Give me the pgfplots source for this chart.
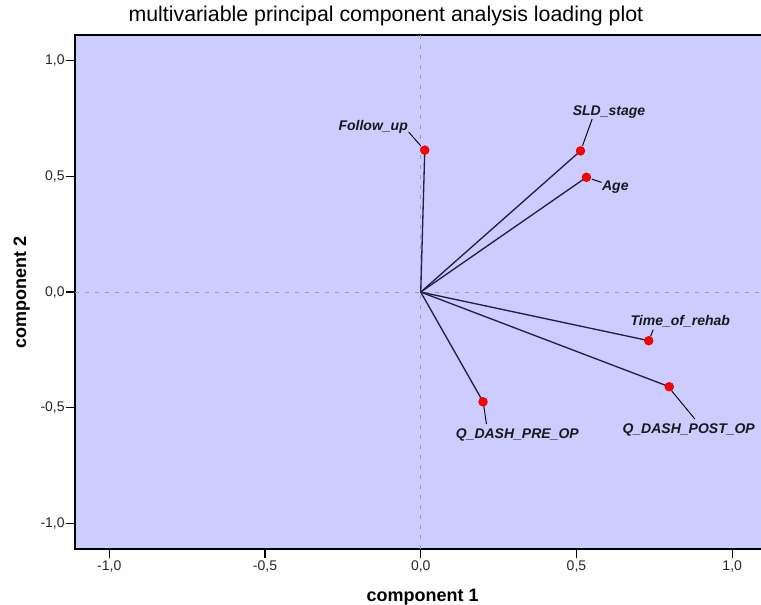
\documentclass[border=0pt]{standalone}
\usepackage{fontspec}
\setmainfont{Liberation Sans}
\usepackage{pgfplots}
\usepackage{pgfplotstable}
\pgfplotsset{compat=1.18}

\definecolor{plotbg}{HTML}{CCCCFF}
\definecolor{vec}{HTML}{202040}
\definecolor{zeroline}{HTML}{9C9CB8}

% loadings: component 1, component 2
\pgfplotstableread{
x      y
0.013  0.613
0.513  0.610
0.532  0.496
0.732 -0.210
0.798 -0.409
0.200 -0.474
}\loadings

\begin{document}
\begin{tikzpicture}
\begin{axis}[
    scale only axis,
    width=518.6pt, height=385.4pt,
    xmin=-1.11, xmax=1.11,
    ymin=-1.11, ymax=1.11,
    axis background/.style={fill=plotbg},
    axis line style={black, line width=1.1pt},
    tick pos=left,
    tick align=outside,
    major tick length=6.75pt,
    tick style={black, line width=1pt},
    xtick={-1,-0.5,0,0.5,1},
    ytick={-1,-0.5,0,0.5,1},
    xticklabels={{-1,0},{-0,5},{0,0},{0,5},{1,0}},
    yticklabels={{-1,0},{-0,5},{0,0},{0,5},{1,0}},
    ticklabel style={font=\fontsize{10.5}{12}\selectfont, text=black!85},
    yticklabel style={inner sep=0.8pt},
    xticklabel style={inner sep=2pt},
    xlabel={component 1},
    ylabel={component 2},
    label style={font=\fontsize{13.5}{15}\selectfont\bfseries},
    xlabel style={at={(axis description cs:0.5026,-0.1027)}, anchor=base},
    ylabel style={at={(axis description cs:-0.077,0.5)}, anchor=center, rotate=0},
    title={multivariable principal component analysis loading plot},
    title style={font=\fontsize{16}{18}\selectfont, at={(axis description cs:0.4496,1.0117)}, anchor=base},
    clip=false,
]
% zero reference lines
\draw[zeroline, line width=0.8pt, dash pattern=on 3pt off 4.5pt] (axis cs:0,-1.11) -- (axis cs:0,1.11);
\draw[zeroline, line width=0.8pt, dash pattern=on 3pt off 4.5pt] (axis cs:-1.11,0) -- (axis cs:1.11,0);

% vectors from origin
\addplot[draw=vec, line width=1pt, quiver={u=\thisrow{x}, v=\thisrow{y}}]
    table[x expr=0, y expr=0] {\loadings};

% leader lines
\draw[black, line width=0.7pt] (axis cs:-0.0385,0.691) -- (axis cs:0.0,0.632);
\draw[black, line width=0.7pt] (axis cs:0.5503,0.7473) -- (axis cs:0.5194,0.632);
\draw[black, line width=0.7pt] (axis cs:0.549,0.488) -- (axis cs:0.5805,0.4739);
\draw[black, line width=0.7pt] (axis cs:0.7462,-0.1629) -- (axis cs:0.7379,-0.1914);
\draw[black, line width=0.7pt] (axis cs:0.8053,-0.4263) -- (axis cs:0.8802,-0.5486);
\draw[black, line width=0.7pt] (axis cs:0.2024,-0.4911) -- (axis cs:0.211,-0.5702);

% loading points
\addplot[only marks, mark=*, mark size=3.3pt,
    mark options={fill=red, draw=red!85!black, line width=0.4pt}]
    table {\loadings};

% variable names
\begin{scope}[every node/.style={font=\fontsize{10.5}{12}\selectfont\bfseries\itshape, text=black!90, inner sep=0pt}]
\node[anchor=base] at (axis cs:-0.1526,0.6968) {Follow\_up};
\node[anchor=base] at (axis cs:0.6045,0.7646) {SLD\_stage};
\node[anchor=base west] at (axis cs:0.5814,0.4376) {Age};
\node[anchor=base] at (axis cs:0.8333,-0.1456) {Time\_of\_rehab};
\node[anchor=base east] at (axis cs:1.0735,-0.6104) {Q\_DASH\_POST\_OP};
\node[anchor=base] at (axis cs:0.31,-0.632) {Q\_DASH\_PRE\_OP};
\end{scope}
\end{axis}
\pgfresetboundingbox
\path (current axis.south west) ++(-56.25pt,-41.25pt) rectangle ++(570.75pt,453pt);
\end{tikzpicture}
\end{document}
